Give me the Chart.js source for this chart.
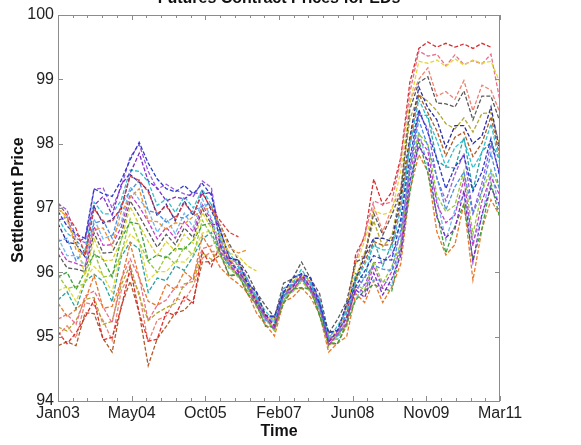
<!DOCTYPE html>
<html>
<head>
<meta charset="utf-8">
<script src="https://cdn.jsdelivr.net/npm/chart.js@4.4.1/dist/chart.umd.min.js"></script>
<style>
  html, body { margin: 0; padding: 0; background: #fff; }
  canvas { display: block; }
</style>
</head>
<body>
<canvas id="chart" width="581" height="445"></canvas>
<script>
// months since Jan 2003, sampled every two months
const months = [0, 2, 4, 6, 8, 10, 12, 14, 16, 18, 20, 22, 24, 26, 28, 30, 32, 34, 36, 38,
  40, 42, 44, 46, 48, 50, 52, 54, 56, 58, 60, 62, 64, 66, 68, 70, 72, 74, 76, 78,
  80, 82, 84, 86, 88, 90, 92, 94, 96, 98];
const xLabels = ['Jan03', 'May04', 'Oct05', 'Feb07', 'Jun08', 'Nov09', 'Mar11'];
const yTicks = [94, 95, 96, 97, 98, 99, 100];

// settlement prices per contract (short-lived contracts stop early)
const ctrA = [97.08, 96.89, 96.68, 96.27, 96.99, 96.79, 96.79, 97.01, 97.49, 97.43, 97.25, 96.91, 97.03, 96.83, 97.08, 96.91, 97.23, 96.99, 96.80, 96.62, 96.55];
const ctrB = [96.98, 96.87, 96.35, 96.28, 96.66, 96.69, 96.41, 96.94, 97.16, 97.30, 96.80, 96.79, 96.67, 96.77, 96.75, 96.87, 96.97, 97.01, 96.72, 96.38, 96.30, 96.35];
const ctrC = [97.05, 96.80, 96.50, 95.95, 96.52, 96.18, 96.19, 96.49, 97.02, 96.74, 96.48, 96.26, 96.48, 96.33, 96.59, 96.45, 96.93, 96.69, 96.55, 96.30, 96.25, 96.10, 96.02];
const ctrD = [96.95, 96.72, 96.59, 96.53, 97.30, 97.22, 97.18, 97.43, 97.75, 98.02, 97.70, 97.45, 97.30, 97.25, 97.35, 97.22, 97.38, 97.20,
  96.64, 96.23, 96.17, 95.83, 95.69, 95.33, 95.31, 95.68, 95.91, 95.98, 95.91, 95.51, 95.06, 95.10, 95.49,
  95.78, 96.02, 96.26, 96.20, 96.19, 96.83, 97.76, 98.53, 98.17, 97.77, 97.30, 97.64, 97.81, 97.26, 97.56, 98.08, 97.47];
const ctrE = [96.81, 96.86, 96.45, 96.54, 97.04, 97.18, 96.89, 97.36, 97.54, 97.85, 97.42, 97.31, 97.11, 97.17, 97.14, 97.24, 97.21, 97.25,
  96.40, 96.18, 96.00, 95.84, 95.53, 95.34, 95.16, 95.69, 95.76, 95.96, 95.76, 95.51, 94.91, 95.09, 95.28,
  95.73, 95.61, 95.99, 95.65, 95.90, 96.26, 97.41, 97.96, 97.74, 96.86, 96.54, 96.67, 97.27, 96.16, 96.91, 97.31, 97.04];
const ctrF = [96.84, 96.61, 96.50, 96.34, 97.09, 96.91, 96.91, 97.12, 97.59, 97.57, 97.41, 97.04, 97.14, 96.93, 97.18, 97.00, 97.29, 97.05,
  96.55, 96.30, 96.09, 95.90, 95.60, 95.40, 95.22, 95.75, 95.82, 96.05, 95.82, 95.58, 94.97, 95.17, 95.40,
  95.85, 96.12, 96.41, 96.35, 96.35, 96.99, 97.94, 98.69, 98.38, 98.05, 97.64, 97.94, 98.06, 97.62, 97.86, 98.31, 97.68];
const ctrG = [96.48, 96.53, 96.18, 96.35, 96.76, 96.81, 96.53, 97.05, 97.26, 97.43, 96.96, 96.92, 96.78, 96.87, 96.84, 96.96, 97.03, 97.07,
  96.49, 96.11, 96.09, 95.76, 95.62, 95.26, 95.24, 95.61, 95.84, 95.89, 95.84, 95.44, 94.99, 95.01, 95.37,
  95.71, 95.92, 96.11, 96.05, 96.03, 96.67, 97.58, 98.37, 97.96, 97.48, 96.97, 97.33, 97.56, 96.91, 97.27, 97.85, 97.26];
const ctrH = [96.40, 96.18, 96.14, 96.08, 96.71, 96.42, 96.43, 96.70, 97.21, 97.02, 96.79, 96.52, 96.70, 96.53, 96.79, 96.63, 97.05, 96.81,
  96.32, 96.12, 95.96, 95.80, 95.49, 95.30, 95.12, 95.65, 95.72, 95.91, 95.72, 95.47, 94.87, 95.04, 95.21,
  95.78, 95.68, 96.10, 95.76, 96.01, 96.37, 97.54, 98.07, 97.89, 97.06, 96.77, 96.89, 97.45, 96.41, 97.11, 97.48, 97.19];
const ctrI = [95.93, 96.00, 95.73, 96.02, 96.28, 96.20, 95.93, 96.52, 96.78, 96.75, 96.18, 96.27, 96.23, 96.37, 96.36, 96.50, 96.73, 96.77,
  96.29, 95.95, 95.98, 95.67, 95.51, 95.17, 95.15, 95.52, 95.75, 95.76, 95.75, 95.33, 94.90, 94.90, 95.20,
  95.57, 95.72, 95.81, 95.75, 95.71, 96.35, 97.22, 98.05, 97.54, 96.91, 96.30, 96.72, 97.06, 96.20, 96.68, 97.39, 96.84];
const ctrJ = [96.29, 96.07, 96.05, 96.01, 96.61, 96.30, 96.31, 96.59, 97.11, 96.88, 96.63, 96.39, 96.59, 96.43, 96.69, 96.54, 96.99, 96.75,
  96.73, 96.44, 96.19, 95.98, 95.69, 95.48, 95.30, 95.83, 95.90, 96.16, 95.90, 95.67, 95.05, 95.27, 95.55,
  96.16, 96.23, 96.92, 96.58, 96.89, 97.25, 98.53, 98.95, 99.04, 98.63, 98.62, 98.57, 98.82, 98.37, 98.74, 98.74, 98.34];
const ctrK = [95.96, 95.75, 95.78, 95.82, 96.33, 95.93, 95.95, 96.28, 96.83, 96.47, 96.17, 96.00, 96.26, 96.13, 96.40, 96.26, 96.81, 96.57,
  96.25, 96.07, 95.92, 95.77, 95.46, 95.27, 95.09, 95.62, 95.69, 95.87, 95.69, 95.44, 94.84, 95.00, 95.15,
  95.81, 95.73, 96.17, 95.83, 96.09, 96.45, 97.63, 98.15, 97.99, 97.20, 96.94, 97.04, 97.57, 96.59, 97.26, 97.59, 97.29];
const ctrL = [95.71, 95.78, 95.55, 95.89, 96.09, 95.95, 95.69, 96.31, 96.59, 96.47, 95.87, 96.01, 96.01, 96.17, 96.16, 96.31, 96.61, 96.65,
  96.59, 96.19, 96.15, 95.80, 95.66, 95.30, 95.28, 95.65, 95.88, 95.95, 95.88, 95.48, 95.03, 95.07, 95.45,
  96.10, 96.49, 96.96, 96.90, 96.94, 97.58, 98.61, 99.28, 99.25, 99.30, 99.20, 99.32, 99.22, 99.30, 99.25, 99.28, 98.95];
const ctrM = [95.52, 95.32, 95.42, 95.56, 95.95, 95.44, 95.47, 95.86, 96.45, 95.92, 95.55, 95.48, 95.82, 95.73, 96.01, 95.89, 96.57, 96.33,
  96.07, 95.93, 95.82, 95.69, 95.37, 95.19, 95.01, 95.54, 95.61, 95.76, 95.61, 95.35, 94.76, 94.90, 95.00,
  95.67, 95.53, 95.87, 95.53, 95.77, 96.13, 97.27, 97.83, 97.57, 96.63, 96.27, 96.43, 97.07, 95.88, 96.67, 97.13, 96.87];
const ctrN = [95.27, 95.35, 95.19, 95.63, 95.71, 95.46, 95.21, 95.89, 96.21, 95.92, 95.25, 95.49, 95.57, 95.77, 95.77, 95.94, 96.37, 96.41,
  96.54, 96.15, 96.12, 95.78, 95.64, 95.28, 95.26, 95.63, 95.86, 95.92, 95.86, 95.46, 95.01, 95.04, 95.41,
  96.17, 96.59, 97.11, 97.05, 97.10, 97.74, 98.79, 99.44, 99.36, 99.39, 99.21, 99.38, 99.23, 99.29, 99.24, 99.39, 98.66];
const ctrO = [95.08, 94.89, 95.06, 95.30, 95.57, 94.95, 94.99, 95.44, 96.07, 95.37, 94.93, 94.96, 95.38, 95.33, 95.62, 95.52, 96.33, 96.09,
  96.43, 96.21, 96.02, 95.85, 95.55, 95.35, 95.17, 95.70, 95.77, 95.98, 95.77, 95.53, 94.92, 95.10, 95.30,
  96.28, 96.55, 97.45, 97.05, 97.25, 97.78, 98.95, 99.48, 99.58, 99.50, 99.56, 99.50, 99.55, 99.48, 99.56, 99.50];
const ctrP = [94.86, 94.92, 94.86, 95.37, 95.36, 94.97, 94.76, 95.47, 95.86, 95.37, 94.55, 94.97, 95.16, 95.37, 95.41, 95.57, 96.16, 96.17,
  96.27, 95.94, 95.97, 95.66, 95.50, 95.16, 95.14, 95.51, 95.74, 95.75, 95.74, 95.32, 94.89, 94.89, 95.18,
  95.88, 96.17, 96.48, 96.42, 96.43, 97.07, 98.03, 98.77, 98.48, 98.20, 97.81, 98.10, 98.18, 97.80, 98.01, 98.42, 97.78];
const ctrQ = [96.76, 96.47, 96.44, 96.24, 97.02, 96.76, 96.82, 96.98, 97.52, 97.40, 97.28, 96.88, 97.06, 96.80, 97.11, 96.88, 97.26, 96.96,
  96.66, 96.22, 96.19, 95.82, 95.70, 95.32, 95.32, 95.67, 95.92, 95.97, 95.92, 95.50, 95.07, 95.09, 95.51,
  95.89, 96.25, 96.53, 96.53, 96.48, 97.18, 98.09, 98.88, 98.56, 98.37, 97.94, 98.28, 98.28, 98.00, 98.12, 98.57, 97.86];
const ctrR = [95.57, 95.70, 95.43, 95.86, 95.97, 95.86, 95.54, 96.24, 96.47, 96.36, 95.69, 95.91, 95.87, 96.10, 96.03, 96.25, 96.52, 96.62,
  96.29, 96.11, 95.94, 95.80, 95.47, 95.30, 95.10, 95.65, 95.70, 95.91, 95.70, 95.47, 94.85, 95.04, 95.18,
  95.98, 95.90, 96.50, 96.10, 96.44, 96.74, 98.02, 98.44, 98.44, 97.74, 97.64, 97.62, 98.10, 97.27, 97.88, 98.02, 97.74];
const ctrS = [97.07, 96.97, 96.53, 96.46, 97.29, 97.31, 97.00, 97.32, 97.79, 97.99, 97.57, 97.29, 97.37, 97.28, 97.22, 97.18, 97.42, 97.32,
  96.51, 96.19, 96.16, 95.90, 95.58, 95.30, 95.30, 95.75, 95.80, 95.94, 95.90, 95.58, 94.95, 95.06, 95.47,
  95.91, 95.80, 96.15, 96.15, 96.28, 96.58, 97.64, 98.48, 98.23, 97.46, 97.11, 97.52, 97.85, 96.92, 97.39, 97.99, 97.53];
const ctrT = [95.15, 95.09, 95.25, 95.58, 95.61, 95.19, 95.24, 95.80, 96.11, 95.63, 95.25, 95.37, 95.45, 95.52, 95.82, 95.86, 96.30, 96.20,
  96.39, 96.11, 95.94, 95.70, 95.57, 95.30, 95.10, 95.55, 95.80, 95.91, 95.70, 95.37, 94.95, 95.04, 95.18,
  95.92, 96.30, 96.80, 96.40, 96.56, 97.26, 98.38, 98.76, 98.66, 98.51, 98.31, 98.23, 98.40, 98.18, 98.47, 98.48, 97.96];
const ctrU = [95.02, 95.17, 94.98, 95.53, 95.49, 95.25, 94.94, 95.71, 95.99, 95.68, 94.91, 95.26, 95.32, 95.60, 95.55, 95.79, 96.22, 96.32,
  96.33, 96.15, 95.96, 95.82, 95.49, 95.32, 95.12, 95.67, 95.72, 95.93, 95.72, 95.49, 94.87, 95.06, 95.22,
  96.23, 96.25, 97.03, 96.63, 97.00, 97.30, 98.65, 99.00, 99.18, 98.74, 98.81, 98.69, 98.98, 98.51, 98.91, 98.83, 98.48];
const ctrV = [96.54, 96.26, 96.26, 96.11, 96.83, 96.52, 96.58, 96.77, 97.33, 97.13, 96.97, 96.62, 96.84, 96.60, 96.92, 96.70, 97.14, 96.84,
  96.42, 96.04, 96.06, 95.71, 95.58, 95.21, 95.21, 95.56, 95.81, 95.83, 95.81, 95.38, 94.96, 94.96, 95.31,
  95.58, 95.82, 95.88, 95.88, 95.79, 96.49, 97.32, 98.19, 97.65, 97.14, 96.50, 96.97, 97.20, 96.48, 96.85, 97.58, 96.95];

const contracts = [ctrA, ctrB, ctrC, ctrD, ctrE, ctrF, ctrG, ctrH, ctrI, ctrJ, ctrK,
  ctrL, ctrM, ctrN, ctrO, ctrP, ctrQ, ctrR, ctrS, ctrT, ctrU, ctrV];
const colors = ['#e03c3c', '#f0902c', '#d8d030', '#2a3cc8', '#7a2ec8', '#30c0d0', '#4a8ee0', '#c040c8',
  '#3aa040', '#5a5a5a', '#98c83a', '#e2d83a', '#e8782a', '#e8708c', '#d83030', '#b05a28',
  '#2c2c9c', '#2aa0a0', '#9a5ae0', '#b0a830', '#f08070', '#70b8f0'];

const span = months[months.length - 1];
const font = '"Liberation Sans", Arial, sans-serif';

// box, inward tick marks and the three titles
const frame = {
  id: 'frame',
  afterDraw(chart) {
    const { ctx, chartArea: a, scales: { x, y } } = chart;
    ctx.save();
    ctx.strokeStyle = '#8c8c8c';
    ctx.lineWidth = 1;
    ctx.strokeRect(a.left + 0.5, a.top + 0.5, a.right - a.left - 1, a.bottom - a.top);
    ctx.beginPath();
    for (let i = 0; i <= 30; i++) {
      const px = Math.round(x.getPixelForValue(i * span / 30)) + 0.5;
      const len = i % 5 === 0 ? 5 : 3;
      ctx.moveTo(px, a.bottom); ctx.lineTo(px, a.bottom - len);
      ctx.moveTo(px, a.top); ctx.lineTo(px, a.top + len);
    }
    yTicks.forEach(v => {
      const py = Math.round(y.getPixelForValue(v)) + 0.5;
      ctx.moveTo(a.left, py); ctx.lineTo(a.left + 5, py);
      ctx.moveTo(a.right, py); ctx.lineTo(a.right - 5, py);
    });
    ctx.stroke();

    ctx.fillStyle = '#111';
    ctx.font = 'bold 16px ' + font;
    ctx.textAlign = 'center';
    ctx.textBaseline = 'alphabetic';
    ctx.fillText('Futures Contract Prices for EDs', (a.left + a.right) / 2, 3);
    ctx.textBaseline = 'middle';
    ctx.fillText('Time', (a.left + a.right) / 2, 432);
    ctx.translate(19, 200);
    ctx.rotate(-Math.PI / 2);
    ctx.fillText('Settlement Price', 0, 0);
    ctx.restore();
  }
};

new Chart(document.getElementById('chart'), {
  type: 'line',
  data: {
    datasets: contracts.map((vals, k) => ({
      data: vals.map((v, i) => ({ x: months[i], y: v })),
      borderColor: colors[k],
      borderWidth: 1.3,
      borderDash: [4, 2],
      pointRadius: 0,
      tension: 0
    }))
  },
  options: {
    responsive: false,
    animation: false,
    devicePixelRatio: 1,
    layout: { padding: { top: 15, right: 81, left: 0, bottom: 0 } },
    plugins: { legend: { display: false }, tooltip: { enabled: false } },
    scales: {
      x: {
        type: 'linear',
        min: 0,
        max: span,
        grid: { display: false, drawTicks: false },
        border: { display: false },
        afterBuildTicks: s => { s.ticks = xLabels.map((_, i) => ({ value: i * span / (xLabels.length - 1) })); },
        afterFit: s => { s.height = 44; },
        ticks: {
          autoSkip: false,
          maxRotation: 0,
          padding: 3,
          color: '#222',
          font: { family: font, size: 16 },
          callback: (v, i) => xLabels[i]
        }
      },
      y: {
        min: 94,
        max: 100,
        grid: { display: false, drawTicks: false },
        border: { display: false },
        afterFit: s => { s.width = 58; },
        ticks: {
          stepSize: 1,
          padding: 4,
          color: '#222',
          font: { family: font, size: 16 }
        }
      }
    }
  },
  plugins: [frame]
});
</script>
</body>
</html>
